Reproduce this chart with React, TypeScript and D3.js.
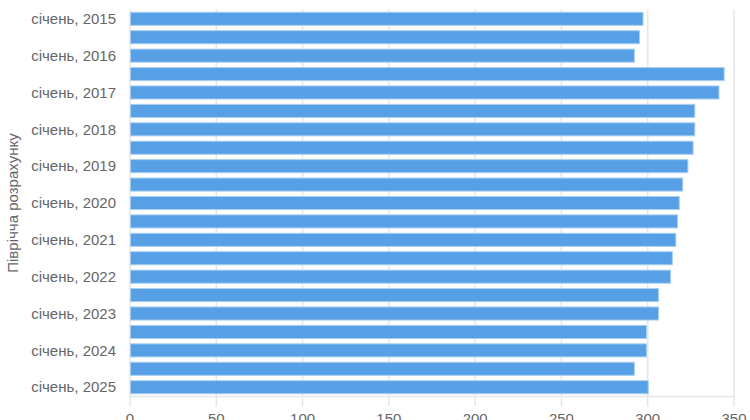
import React from "react";
import * as d3 from "d3";

const years = ["2015", "2016", "2017", "2018", "2019", "2020", "2021", "2022", "2023", "2024", "2025"];
const categories: string[] = [];
years.forEach((y, i) => {
  categories.push(`січень, ${y}`);
  if (i < years.length - 1) categories.push(`липень, ${y}`);
});
const values = [297, 295, 292, 344, 341, 327, 327, 326, 323, 320, 318, 317, 316, 314, 313, 306, 306, 299, 299, 292, 300];
const xTicks = [0, 50, 100, 150, 200, 250, 300, 350];
const axisTitle = "Піврічча розрахунку";

const W = 750;
const H = 420;
const margin = { top: 9.6, right: 16, bottom: 23.6, left: 130 };

export default function App() {
  const x = d3.scaleLinear().domain([0, 350]).range([margin.left, 734]);
  const y = d3
    .scaleBand<string>()
    .domain(categories)
    .range([margin.top, H - margin.bottom])
    .paddingInner(0.29)
    .paddingOuter(0.145);
  const plotBottom = H - margin.bottom;
  const font = "'Liberation Sans', Arial, sans-serif";
  return (
    <svg
      width={W}
      height={H}
      style={{ position: "absolute", left: 0, top: 0, display: "block", background: "#fff" }}
      fontFamily={font}
    >
      {xTicks.map((t) => (
        <line
          key={"g" + t}
          x1={x(t)}
          x2={x(t)}
          y1={margin.top}
          y2={plotBottom + 10}
          stroke="#e6e6e6"
          strokeWidth={1.5}
        />
      ))}
      <line x1={margin.left} x2={734} y1={plotBottom} y2={plotBottom} stroke="#e6e6e6" strokeWidth={1.5} />
      {values.map((v, i) => (
        <rect
          key={i}
          x={x(0) + 0.5}
          y={y(categories[i])!}
          width={x(v) - x(0)}
          height={y.bandwidth()}
          fill="#57a0e5"
          stroke="#a9cff2"
          strokeWidth={1}
        />
      ))}
      {categories.map((c, i) =>
        i % 2 === 0 ? (
          <text
            key={c}
            x={116}
            y={y(c)! + y.bandwidth() / 2}
            dy="0.35em"
            textAnchor="end"
            fontSize={15}
            fill="#666666"
          >
            {c}
          </text>
        ) : null
      )}
      {xTicks.map((t) => (
        <text key={"t" + t} x={x(t)} y={424} textAnchor="middle" fontSize={15} fill="#666666">
          {t}
        </text>
      ))}
      <text
        transform={`translate(18, ${(margin.top + plotBottom) / 2}) rotate(-90)`}
        textAnchor="middle"
        fontSize={15}
        fill="#666666"
      >
        {axisTitle}
      </text>
    </svg>
  );
}
